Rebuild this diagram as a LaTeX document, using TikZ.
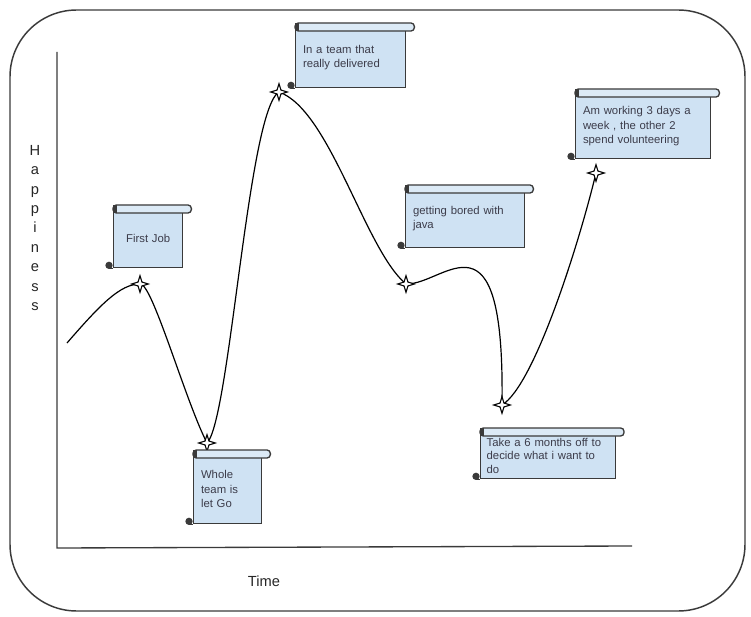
\documentclass[tikz,border=0pt]{standalone}
\usepackage{fontspec}
\setmainfont{Liberation Sans}
\usetikzlibrary{shapes.geometric,calc,backgrounds}
\definecolor{bodyfill}{HTML}{CFE2F3}
\definecolor{rollfill}{HTML}{DCEAF6}
\definecolor{linecol}{HTML}{3A3A3A}
\definecolor{textcol}{HTML}{3C3C4A}
\tikzset{
  scrollline/.style={draw=linecol, line width=1pt},
  scrollbody/.style={scrollline, fill=bodyfill, anchor=north west, inner xsep=5.5pt, inner ysep=0pt,
    align=left, text=textcol, font=\fontsize{8.5}{11}\selectfont},
  starmark/.style={star, star points=4, star point ratio=3, minimum size=12.5pt, inner sep=0pt,
    draw=black, fill=white, line width=0.8pt},
  curve/.style={draw=black, line width=0.9pt},
  frame/.style={draw=linecol, line width=1.1pt},
  axis/.style={draw=linecol, line width=1pt},
  axislabel/.style={text=black!85, font=\fontsize{11}{14.6}\selectfont}
}
\newcommand\scrolldeco[1]{%
  \draw[scrollline, fill=rollfill, rounded corners=2.5pt] ($(#1.north west)+(0,-4)$) rectangle ($(#1.north east)+(8,4)$);
  \fill[linecol] ($(#1.north west)+(0,-4)$) rectangle ($(#1.north west)+(4,4)$);
  \draw[scrollline] ($(#1.south west)+(-4,0)$) -- (#1.south west);
  \draw[scrollline, fill=linecol] ($(#1.south west)+(-4,-3)$) circle[radius=2.2pt];
}
\begin{document}
\begin{tikzpicture}[x=0.75pt, y=-0.75pt]
\useasboundingbox (0,0) rectangle (751,617);
% frame
\draw[frame, rounded corners=50pt] (10,10) rectangle (745,611);
% axes
\draw[axis] (57,52) -- (57,548) -- (632,546);
\node[axislabel, align=center, inner sep=0pt] (ylab) at (35,228) {H\\a\\p\\p\\i\\n\\e\\s\\s};
\node[axislabel] (xlab) at (264,581) {Time};
% markers
\coordinate (start) at (67,343);
\node[starmark] (s1) at (140,284) {};
\node[starmark] (s2) at (207,443) {};
\node[starmark] (s3) at (279,92) {};
\node[starmark] (s4) at (406,284) {};
\node[starmark] (s5) at (502,405) {};
\node[starmark] (s6) at (596,173) {};
\begin{pgfonlayer}{background}
\draw[curve] (start) .. controls (100,305) and (120,284) .. (s1.center)
  .. controls (152,282) and (185,400) .. (s2.center)
  .. controls (230,420) and (248,110) .. (s3.center)
  .. controls (330,110) and (365,250) .. (s4.center)
  .. controls (445,285) and (505,200) .. (s5.center)
  .. controls (535,385) and (580,240) .. (s6.center);
\end{pgfonlayer}
% scrolls
\node[scrollbody, text width=40.75pt, minimum height=43.5pt, align=center] (job) at (113,209) {First Job};
\scrolldeco{job}
\node[scrollbody, text width=40pt, minimum height=51.75pt] (letgo) at (193,454) {Whole\\team is\\let Go};
\scrolldeco{letgo}
\node[scrollbody, text width=71.5pt, minimum height=45pt] (team) at (295,27) {In a team that\\really delivered};
\scrolldeco{team}
\node[scrollbody, text width=78.25pt, minimum height=43.5pt] (bored) at (405,189) {getting bored with\\java};
\scrolldeco{bored}
\node[scrollbody, text width=92pt, inner xsep=4.5pt, minimum height=34.5pt, font=\fontsize{8.5}{10.2}\selectfont] (off) at (480,432) {Take a 6 months off to\\decide what i want to\\do};
\scrolldeco{off}
\node[scrollbody, text width=90.25pt, minimum height=48.75pt] (work) at (575,93) {Am working 3 days a\\week , the other 2\\spend volunteering};
\scrolldeco{work}
\end{tikzpicture}
\end{document}
